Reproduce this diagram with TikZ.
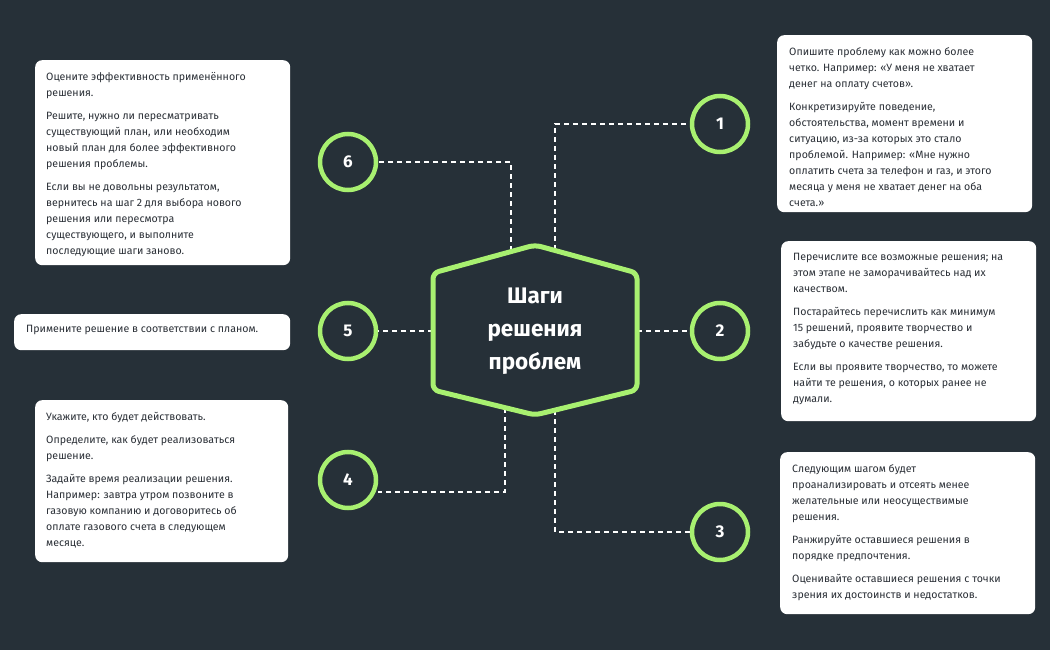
\documentclass[tikz,border=0pt]{standalone}
\usepackage{fontspec}
\setmainfont{Fira Sans}
\definecolor{bg}{HTML}{263038}
\definecolor{grn}{HTML}{A8F070}
\definecolor{txt}{HTML}{2A2F36}
\begin{document}
\begin{tikzpicture}[x=1pt,y=-1pt,
  card/.style={draw=none,fill=white,rounded corners=7pt,anchor=north west,inner sep=0pt},
  ctext/.style={anchor=north west,align=left,text=txt,inner sep=0pt,font=\fontsize{10.6}{16}\selectfont},
  stepc/.style={circle,draw=grn,line width=4.5pt,fill=bg,minimum size=56pt,inner sep=0pt,text=white,font=\bfseries\fontsize{17}{17}\selectfont},
  conn/.style={white,dashed,line width=1.2pt,dash pattern=on 5pt off 4pt}]
\fill[bg] (0,0) rectangle (1050,650);
\useasboundingbox (0,0) rectangle (1050,650);
% cards
\node[card,minimum width=255pt,minimum height=205pt] (b6) at (35,60) {};
\node[card,minimum width=255pt,minimum height=177pt] (b1) at (777,35) {};
\node[card,minimum width=276pt,minimum height=36pt] (b5) at (14,314) {};
\node[card,minimum width=255pt,minimum height=180pt] (b2) at (781,241) {};
\node[card,minimum width=253pt,minimum height=162pt] (b4) at (35,400) {};
\node[card,minimum width=255pt,minimum height=162pt] (b3) at (780,452) {};
\node[ctext] (t6) at (46,72) {Оцените эффективность применённого\\решения.\\[7pt]Решите, нужно ли пересматривать\\существующий план, или необходим\\новый план для более эффективного\\решения проблемы.\\[7pt]Если вы не довольны результатом,\\вернитесь на шаг 2 для выбора нового\\решения или пересмотра\\существующего, и выполните\\последующие шаги заново.};
\node[ctext] (t1) at (789,47) {Опишите проблему как можно более\\четко. Например: «У меня не хватает\\денег на оплату счетов».\\[7pt]Конкретизируйте поведение,\\обстоятельства, момент времени и\\ситуацию, из-за которых это стало\\проблемой. Например: «Мне нужно\\оплатить счета за телефон и газ, и этого\\месяца у меня не хватает денег на оба\\счета.»};
\node[ctext] (t5) at (26,325) {Примените решение в соответствии с планом.};
\node[ctext] (t2) at (793,253) {Перечислите все возможные решения; на\\этом этапе не заморачивайтесь над их\\качеством.\\[7pt]Постарайтесь перечислить как минимум\\15 решений, проявите творчество и\\забудьте о качестве решения.\\[7pt]Если вы проявите творчество, то можете\\найти те решения, о которых ранее не\\думали.};
\node[ctext] (t4) at (46,412) {Укажите, кто будет действовать.\\[7pt]Определите, как будет реализоваться\\решение.\\[7pt]Задайте время реализации решения.\\Например: завтра утром позвоните в\\газовую компанию и договоритесь об\\оплате газового счета в следующем\\месяце.};
\node[ctext] (t3) at (792,464) {Следующим шагом будет\\проанализировать и отсеять менее\\желательные или неосуществимые\\решения.\\[7pt]Ранжируйте оставшиеся решения в\\порядке предпочтения.\\[7pt]Оценивайте оставшиеся решения с точки\\зрения их достоинств и недостатков.};
% circles
\node[stepc] (c1) at (720,124) {1};
\node[stepc] (c2) at (720,331) {2};
\node[stepc] (c3) at (720,532) {3};
\node[stepc] (c4) at (348,480) {4};
\node[stepc] (c5) at (348,331) {5};
\node[stepc] (c6) at (348,162) {6};
% hub corners
\coordinate (h1) at (535,245);
\coordinate (h2) at (637,273);
\coordinate (h3) at (637,390);
\coordinate (h4) at (535,415);
\coordinate (h5) at (433,390);
\coordinate (h6) at (433,273);
\coordinate (k1) at (555,250);
\coordinate (k6) at (511,251);
\coordinate (k3) at (555,410);
\coordinate (k4) at (505,408);
\coordinate (k2) at (637,331);
\coordinate (k5) at (433,331);
% connectors
\draw[conn] (k1) |- (c1.west);
\draw[conn] (k6) |- (c6.east);
\draw[conn] (k2) -- (c2.west);
\draw[conn] (k5) -- (c5.east);
\draw[conn] (k3) |- (c3.west);
\draw[conn] (k4) |- ([yshift=-12pt]c4.east);
% hub
\draw[grn,line width=5pt,fill=bg,rounded corners=6pt] (h1)--(h2)--(h3)--(h4)--(h5)--(h6)--cycle;
\node[align=center,text=white,font=\bfseries\fontsize{22.5}{33}\selectfont] (hub) at (535,331) {Шаги\\решения\\проблем};
\end{tikzpicture}
\end{document}
